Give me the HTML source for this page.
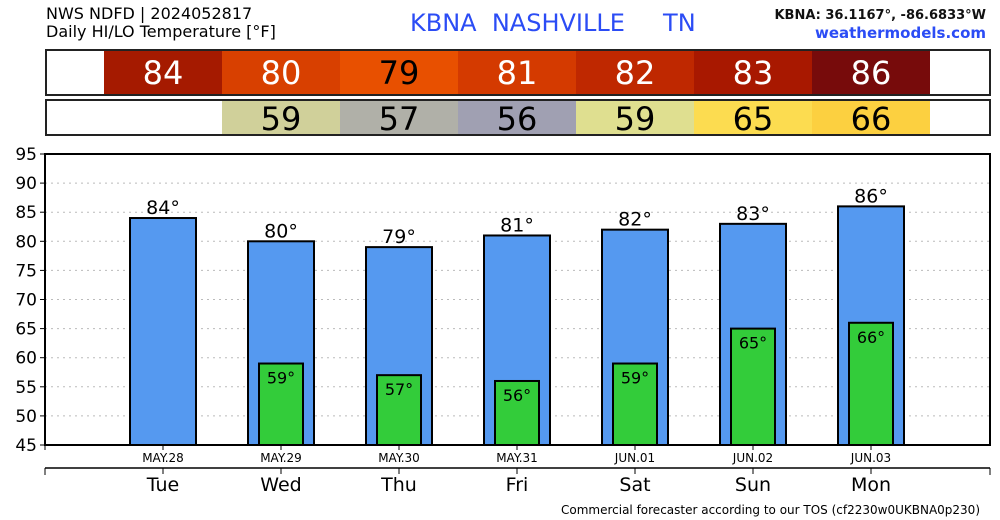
<!DOCTYPE html>
<html><head><meta charset="utf-8"><style>
body{margin:0;background:#fff;font-family:"DejaVu Sans","Liberation Sans",sans-serif}
svg{display:block}
text{white-space:pre}
</style></head><body>
<svg id="c" width="1000" height="520" viewBox="0 0 1000 520" xmlns="http://www.w3.org/2000/svg">
<text x="46" y="19" font-size="16">NWS NDFD | 2024052817</text>
<text x="46" y="37" font-size="16">Daily HI/LO Temperature [°F]</text>
<text x="410" y="31" font-size="24" fill="#2b4cf5" xml:space="preserve">KBNA  NASHVILLE     TN</text>
<text x="986" y="19" font-size="13" text-anchor="end" font-weight="bold" fill="#111">KBNA: 36.1167°, -86.6833°W</text>
<text x="986" y="38" font-size="15" text-anchor="end" fill="#2b4cf5" font-weight="bold">weathermodels.com</text>
<text x="980" y="514" font-size="12" text-anchor="end">Commercial forecaster according to our TOS (cf2230w0UKBNA0p230)</text>
<g id="g"></g>
</svg>
<script>
const days=["Tue","Wed","Thu","Fri","Sat","Sun","Mon"];
const dates=["MAY.28","MAY.29","MAY.30","MAY.31","JUN.01","JUN.02","JUN.03"];
const hi=[84,80,79,81,82,83,86];
const lo=[null,59,57,56,59,65,66];
const hiColors=["#a51a00","#d84000","#e85000","#d43a00","#bf2800","#a81800","#770b0b"];
const hiText=["#fff","#fff","#000","#fff","#fff","#fff","#fff"];
const loColors=[null,"#d0d09a","#b0b0a8","#a0a0b2","#dfdf90","#fcdc50","#fcd040"];
const yTicks=[45,50,55,60,65,70,75,80,85,90,95];
const NS="http://www.w3.org/2000/svg";
const g=document.getElementById('g');
const X0=45,X1=990,Y0=445,Y1=154;
const xs=i=>X0+118*(i+1);
const ys=v=>Y0-(v-45)/50*(Y0-Y1);
function el(t,a,txt){const e=document.createElementNS(NS,t);for(const k in a)e.setAttribute(k,a[k]);if(txt!=null)e.textContent=txt;g.appendChild(e);return e;}
let r=el('rect',{x:46,y:50,width:944,height:45,fill:'#fff',stroke:'#222','stroke-width':2});


r=el('rect',{x:46,y:100,width:944,height:35,fill:'#fff',stroke:'#222','stroke-width':2});


hi.forEach((v,i)=>{
 let c=el('rect',{x:xs(i)-59,y:51,width:118,height:43,fill:hiColors[i]});
 
 
 let t=el('text',{x:xs(i),y:84,'font-size':32,'text-anchor':'middle',fill:hiText[i]},v);
 
 
});
lo.forEach((v,i)=>{
 if(v==null)return;
 let c=el('rect',{x:xs(i)-59,y:101,width:118,height:33,fill:loColors[i]});
 
 
 let t=el('text',{x:xs(i),y:130,'font-size':32,'text-anchor':'middle',fill:'#000'},v);
 
 
});
yTicks.forEach(v=>{
 const y=ys(v);
 if(v>45&&v<95){let l=el('line',{x1:X0,x2:X1,y1:y,y2:y,stroke:'#bbb','stroke-dasharray':'2,4'});
 
 }
 el('line',{x1:X0-5,x2:X0,y1:y,y2:y,stroke:'#000'});
 let t=el('text',{x:X0-8,y:y+6,'font-size':17,'text-anchor':'end'},v);
 
 
});
let fr=el('rect',{x:X0,y:Y1,width:X1-X0,height:Y0-Y1,fill:'none',stroke:'#000','stroke-width':2});


hi.forEach((v,i)=>{
 const cx=xs(i);
 let b=el('rect',{x:cx-33,y:ys(v),width:66,height:Y0-ys(v),fill:'#5599f0',stroke:'#000','stroke-width':2});
 
 
 let t=el('text',{x:cx,y:ys(v)-4,'font-size':19,'text-anchor':'middle'},v+'°');
 
 
 if(lo[i]!=null){
  let lb=el('rect',{x:cx-22,y:ys(lo[i]),width:44,height:Y0-ys(lo[i]),fill:'#33cc3a',stroke:'#000','stroke-width':2});
  
  
  let lt=el('text',{x:cx,y:ys(lo[i])+20,'font-size':16,'text-anchor':'middle'},lo[i]+'°');
  
  
 }
 el('line',{x1:cx,x2:cx,y1:Y0,y2:Y0+5,stroke:'#000'});
 let d=el('text',{x:cx,y:Y0+17,'font-size':12,'text-anchor':'middle'},dates[i]);
 
 
 el('line',{x1:cx,x2:cx,y1:468,y2:474,stroke:'#000'});
 let dl=el('text',{x:cx,y:491,'font-size':19,'text-anchor':'middle'},days[i]);
 
 
});
el('line',{x1:X0,x2:X0,y1:Y0,y2:Y0+5,stroke:'#000'});
let ax=el('line',{x1:X0,x2:X1,y1:468,y2:468,stroke:'#000','stroke-width':1.5});


el('line',{x1:X0,x2:X0,y1:468,y2:475,stroke:'#000'});
el('line',{x1:X1,x2:X1,y1:468,y2:475,stroke:'#000'});
</script>
</body></html>
